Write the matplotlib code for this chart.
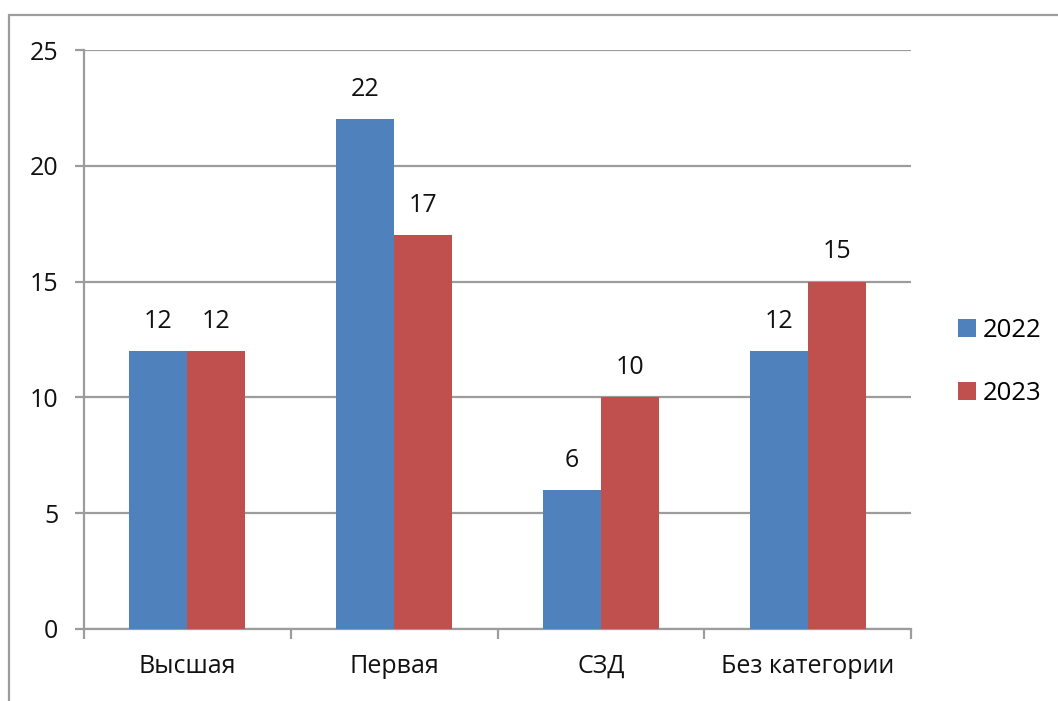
import matplotlib.pyplot as plt
import numpy as np
from matplotlib.patches import Rectangle

# Data
CATEGORIES = ["Высшая", "Первая", "СЗД", "Без категории"]
YEARS = ["2022", "2023"]
V2022 = [12, 22, 6, 12]
V2023 = [12, 17, 10, 15]
Y_TICKS = [0, 5, 10, 15, 20, 25]

BLUE = "#4F81BD"
RED = "#C0504D"
GRID = "#9C9C9C"
TEXT = "#111111"

plt.rcParams.update({
    "font.family": ["Open Sans", "DejaVu Sans"],
    "font.size": 18,
})


def main():
    W, H = 1058, 701
    fig = plt.figure(figsize=(W / 100, H / 100), dpi=100)
    ax = fig.add_axes([84 / W, 1 - 629 / H, (911 - 84) / W, (629 - 50) / H])

    x = np.arange(len(CATEGORIES))
    w = 0.28
    b1 = ax.bar(x - w / 2, V2022, width=w, color=BLUE, label=YEARS[0], zorder=3)
    b2 = ax.bar(x + w / 2, V2023, width=w, color=RED, label=YEARS[1], zorder=3)

    for bars, vals in [(b1, V2022), (b2, V2023)]:
        for bar, v in zip(bars, vals):
            ax.text(bar.get_x() + bar.get_width() / 2, v + 0.75, f"{v}",
                    ha="center", va="bottom", fontsize=18, color=TEXT)

    ax.set_xlim(-0.5, len(CATEGORIES) - 0.5)
    ax.set_ylim(0, 25)
    ax.set_yticks(Y_TICKS)
    ax.set_yticklabels([str(t) for t in Y_TICKS], color=TEXT, fontsize=18)
    ax.yaxis.set_tick_params(length=6.5, width=1.6, color=GRID, pad=12, direction="out")

    # category boundaries as major ticks, labels on minor ticks
    ax.set_xticks(np.arange(-0.5, len(CATEGORIES)), labels=[""] * (len(CATEGORIES) + 1))
    ax.tick_params(axis="x", which="major", length=7, width=1.6, color=GRID, direction="out")
    ax.set_xticks(x, minor=True)
    ax.set_xticklabels(CATEGORIES, minor=True, color=TEXT, fontsize=18)
    ax.tick_params(axis="x", which="minor", length=0, pad=18)

    ax.grid(axis="y", color=GRID, linewidth=1.6, zorder=0)
    ax.set_axisbelow(True)
    for s in ("top", "right"):
        ax.spines[s].set_visible(False)
    for s in ("left", "bottom"):
        ax.spines[s].set_color(GRID)
        ax.spines[s].set_linewidth(1.6)

    fig.legend(handles=[b1, b2], labels=YEARS, loc="center left",
               bbox_to_anchor=(935 / W, 1 - 362 / H), frameon=False,
               fontsize=18.5, handlelength=0.7, handleheight=0.7,
               handletextpad=0.25, labelspacing=1.5)

    # outer chart border
    fig.add_artist(Rectangle((9 / W, -0.1), 1.2, 1 - 15 / H + 0.1,
                             transform=fig.transFigure, fill=False,
                             edgecolor=GRID, linewidth=1.6))

    fig.savefig("out.png", dpi=100, facecolor="white")
    plt.close(fig)


if __name__ == "__main__":
    main()
